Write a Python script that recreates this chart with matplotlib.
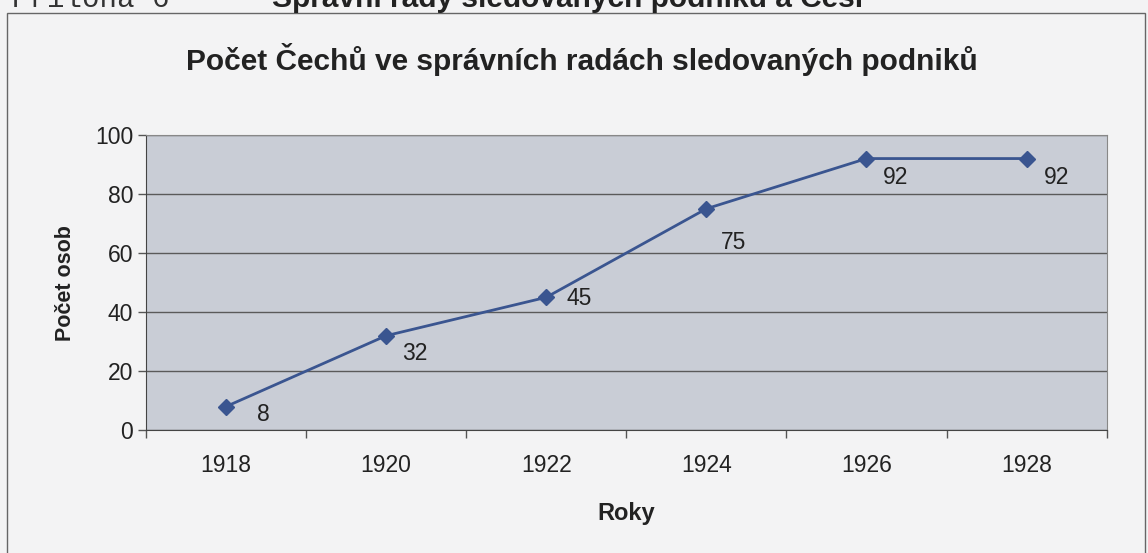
import matplotlib.pyplot as plt
from matplotlib.patches import Rectangle
import numpy as np

years = ["1918", "1920", "1922", "1924", "1926", "1928"]
persons = [8, 32, 45, 75, 92, 92]

TITLE = "Počet Čechů ve správních radách sledovaných podniků"
HEADER_LEFT = "Příloha 6"
HEADER_BOLD = "Správní rady sledovaných podniků a Češi"

# where each value label sits relative to its point (pixels right, pixels up)
label_offsets = [(31, -8), (16, -18), (20, -1), (15, -34), (16, -19), (17, -19)]

plt.rcParams['font.family'] = ['Liberation Sans', 'DejaVu Sans']

LINE_COL = '#3a5590'
BG = '#f3f3f4'
PX = 0.72  # points per pixel at dpi 100

fig = plt.figure(figsize=(11.48, 5.53), dpi=100, facecolor=BG)
ax = fig.add_axes([0.127, 0.222, 0.837, 0.534])
ax.set_facecolor('#c9cdd6')

x = np.arange(len(years))
ax.plot(x, persons, color=LINE_COL, lw=2, marker='D', ms=8, zorder=3)
for xi, v, (dx, dy) in zip(x, persons, label_offsets):
    ax.annotate(str(v), (xi, v), xytext=(dx * PX, dy * PX), textcoords='offset points',
                fontsize=16.5, color='#222222', va='center', ha='left')

ax.set_xlim(-0.5, len(years) - 0.5)
ax.set_ylim(0, 100)
ax.set_yticks(range(0, 101, 20))
ax.set_xticks(x)
ax.set_xticklabels(years)
ax.set_xticks(np.arange(-0.5, len(years)), minor=True)
ax.tick_params(axis='x', which='major', length=0, pad=17, labelsize=16.5, labelcolor='#222222')
ax.tick_params(axis='x', which='minor', length=6, width=1, color='#555555')
ax.tick_params(axis='y', length=6, width=1, color='#555555', labelsize=16.5, pad=3,
               labelcolor='#222222')
ax.grid(axis='y', color='#5a5a5a', lw=1)
ax.set_axisbelow(True)

for side in ['top', 'right']:
    ax.spines[side].set_color('#888888')
for side in ['left', 'bottom']:
    ax.spines[side].set_color('#444444')

ax.set_xlabel("Roky", fontsize=17, fontweight='bold', labelpad=18, color='#222222')
ax.set_ylabel("Počet osob", fontsize=15.5, fontweight='bold', labelpad=14, color='#222222')

fig.text(0.507, 1 - 59 / 553, TITLE, ha='center', va='center', fontsize=21.5,
         fontweight='bold', color='#222222')

# outer frame of the chart
fig.patches.append(Rectangle((7 / 1148, -0.1), 1138 / 1148, 1.1 - 13 / 553,
                             transform=fig.transFigure, fill=False, ec='#666666', lw=1))

fig.text(12 / 1148, 1 - 7 / 553, HEADER_LEFT, family='Liberation Mono', fontsize=21,
         va='baseline', color='#333333')
fig.text(272 / 1148, 1 - 7 / 553, HEADER_BOLD, fontsize=21.5, fontweight='bold',
         va='baseline', color='#222222')

fig.savefig('out.png', dpi=100, facecolor=BG)
